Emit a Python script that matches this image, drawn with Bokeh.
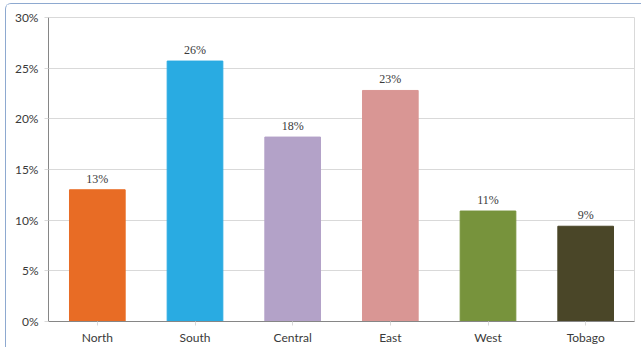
from bokeh.plotting import figure
from bokeh.models import ColumnDataSource, LabelSet, NumeralTickFormatter, FixedTicker
from bokeh.embed import file_html
from bokeh.resources import INLINE

regions = ["North", "South", "Central", "East", "West", "Tobago"]
shares = [0.130, 0.257, 0.182, 0.228, 0.109, 0.094]
labels = ["13%", "26%", "18%", "23%", "11%", "9%"]
colors = ["#E86C25", "#29ABE2", "#B3A2C8", "#D99694", "#77933C", "#4A4628"]
y_ticks = [0, 0.05, 0.10, 0.15, 0.20, 0.25, 0.30]

src = ColumnDataSource(dict(region=regions, share=shares, label=labels, color=colors))

p = figure(x_range=regions, y_range=(0, 0.30), frame_width=586, frame_height=304,
           output_backend="svg", toolbar_location=None,
           min_border_left=42, min_border_top=13, min_border_right=7, min_border_bottom=26,
           margin=(3, 0, 0, 5))
p.styles = {"border-top": "1px solid #8EA9D0", "border-left": "1px solid #8EA9D0",
            "border-top-left-radius": "6px"}

p.vbar(x="region", top="share", width=0.57, color="color", source=src)

p.add_layout(LabelSet(x="region", y="share", text="label", source=src,
                      text_align="center", text_baseline="bottom", y_offset=4,
                      text_font="Lato", text_font_size="12px", text_color="#3a3a3a"))

p.outline_line_color = "#D9D9D9"
p.xgrid.grid_line_color = None
p.ygrid.grid_line_color = "#D9D9D9"
p.yaxis.ticker = FixedTicker(ticks=y_ticks)
p.yaxis.formatter = NumeralTickFormatter(format="0%")
for ax in (p.xaxis[0], p.yaxis[0]):
    ax.axis_line_color = "#868686"
    ax.major_tick_in = 0
    ax.major_tick_out = 4
    ax.minor_tick_line_color = None
    ax.major_label_text_font = "Lato"
    ax.major_label_text_font_size = "12px"
    ax.major_label_text_color = "#3a3a3a"
p.yaxis.major_tick_line_color = "#D9D9D9"
p.xaxis.major_tick_line_color = "#D9D9D9"
p.xaxis.major_label_standoff = 4
p.yaxis.major_label_standoff = 6

open("out.html", "w").write(file_html(p, INLINE))
